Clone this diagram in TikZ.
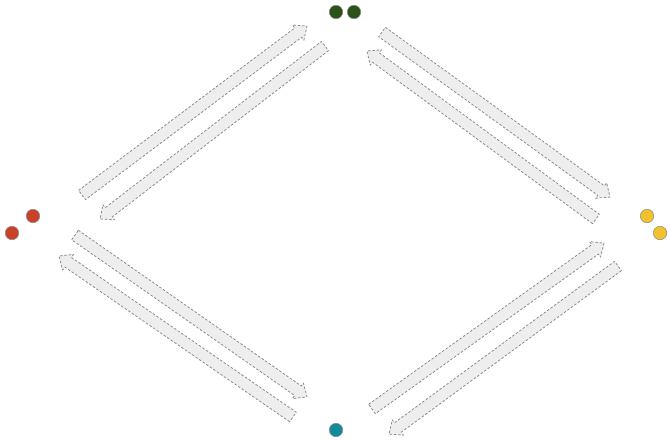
\documentclass[tikz,border=0pt]{standalone}
\usepackage{tikz}
\usetikzlibrary{calc}
\definecolor{kgreen}{HTML}{2B5219}
\definecolor{kred}{HTML}{C8412B}
\definecolor{kyellow}{HTML}{F2C12E}
\definecolor{kteal}{HTML}{138A9A}
\definecolor{kfill}{HTML}{EEEEEE}
\definecolor{kline}{HTML}{8C8C8C}

% fat arrow between two named coordinates
\newcommand{\fatarrow}[2]{%
  \coordinate (h) at ($(#2)!11pt!(#1)$);
  \draw[fat] ($(#1)!5.8pt!90:(#2)$) -- ($(h)!5.8pt!90:(#2)$) -- ($(h)!9.5pt!90:(#2)$)
    -- (#2) -- ($(h)!9.5pt!-90:(#2)$) -- ($(h)!5.8pt!-90:(#2)$) -- ($(#1)!5.8pt!-90:(#2)$) -- cycle;
}

\begin{document}
\begin{tikzpicture}[x=1pt, y=-1pt]

\tikzstyle{dot} = [circle, draw=kline, line width=0.5pt, minimum size=13.5pt, inner sep=0pt]
\tikzstyle{fat} = [fill=kfill, draw=kline, dash pattern=on 2.5pt off 1.8pt, line width=0.8pt, line join=round]

\useasboundingbox (0,0) rectangle (670,440);

% Dots
\node[dot, fill=kgreen] (top1) at (336,12) {};
\node[dot, fill=kgreen] (top2) at (354,12) {};
\node[dot, fill=kred] (left1) at (33,216) {};
\node[dot, fill=kred] (left2) at (12,233) {};
\node[dot, fill=kyellow] (right1) at (647,216) {};
\node[dot, fill=kyellow] (right2) at (660,233) {};
\node[dot, fill=kteal] (bottom) at (336,430) {};

% Arrow ends
\coordinate (lt-a) at (82,195);  \coordinate (lt-b) at (307,26);
\coordinate (tl-a) at (325,46);  \coordinate (tl-b) at (100,219);
\coordinate (tr-a) at (382,32);  \coordinate (tr-b) at (610,197);
\coordinate (rt-a) at (596,219); \coordinate (rt-b) at (367,51);
\coordinate (lb-a) at (75,235);  \coordinate (lb-b) at (307,397);
\coordinate (bl-a) at (293,417); \coordinate (bl-b) at (59,256);
\coordinate (br-a) at (372,409); \coordinate (br-b) at (604,243);
\coordinate (rb-a) at (618,266); \coordinate (rb-b) at (389,434);

% Arrows
\fatarrow{lt-a}{lt-b}
\fatarrow{tl-a}{tl-b}
\fatarrow{tr-a}{tr-b}
\fatarrow{rt-a}{rt-b}
\fatarrow{lb-a}{lb-b}
\fatarrow{bl-a}{bl-b}
\fatarrow{br-a}{br-b}
\fatarrow{rb-a}{rb-b}

\end{tikzpicture}
\end{document}
